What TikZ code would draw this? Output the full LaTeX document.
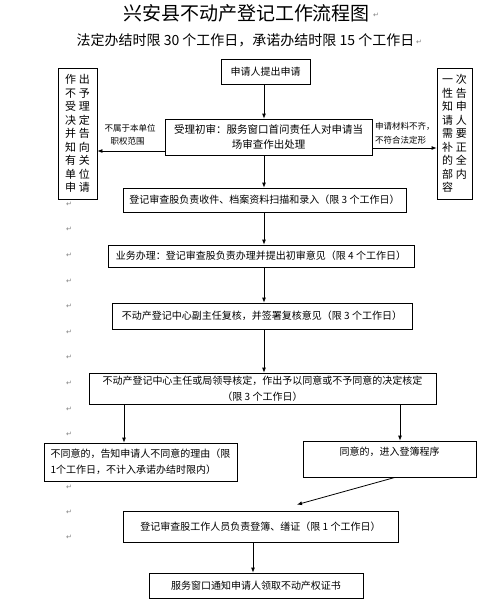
\documentclass[tikz,border=0pt]{standalone}
\usepackage{fontspec}
\setmainfont{Noto Sans CJK SC}
\newfontfamily\symfont{DejaVu Sans}
\usetikzlibrary{arrows.meta,calc}
\newcommand{\twoch}[2]{\makebox[14pt]{#1}\makebox[14pt]{#2}}
\begin{document}
\begin{tikzpicture}[x=1pt,y=-1pt,
  box/.style={draw,line width=0.8pt,inner sep=0pt,align=center,font=\fontsize{10}{16}\selectfont},
  vbox/.style={box,font=\fontsize{11}{13.5}\selectfont},
  arr/.style={draw,line width=0.8pt,-{Latex[length=5pt,width=4pt]}},
  lbl/.style={font=\fontsize{8.5}{10}\selectfont,inner sep=0pt},
  pm/.style={font=\symfont\fontsize{7}{8}\selectfont,text=gray,inner sep=0pt}]
\useasboundingbox[fill=white] (0,0) rectangle (493,603);

% titles
\node[inner sep=0pt,font=\fontsize{19}{22}\selectfont] (title) at (246.5,13) {兴安县不动产登记工作流程图};
\node[inner sep=0pt,font=\fontsize{14}{16}\selectfont] (sub) at (245.5,40) {法定办结时限 30 个工作日，承诺办结时限 15 个工作日};
\node[pm] (pt) at (376,15) {↵};
\node[pm] (ps) at (419,42) {↵};

% boxes
\node[box,minimum width=89pt,minimum height=25pt] (b1) at (265.5,71.5) {申请人提出申请};
\node[box,minimum width=207pt,minimum height=36pt,font=\fontsize{10.5}{15}\selectfont] (b2) at (268.5,137) {受理初审：服务窗口首问责任人对申请当\\场审查作出处理};
\node[vbox,minimum width=39pt,minimum height=131pt] (bL) at (77.5,133.5)
  {\twoch{作}{出}\\\twoch{不}{予}\\\twoch{受}{理}\\\twoch{决}{定}\\\twoch{并}{告}\\\twoch{知}{向}\\\twoch{有}{关}\\\twoch{单}{位}\\\twoch{申}{请}};
\node[vbox,minimum width=35pt,minimum height=131pt] (bR) at (454.5,133.5)
  {\twoch{一}{次}\\\twoch{性}{告}\\\twoch{知}{申}\\\twoch{请}{人}\\\twoch{需}{要}\\\twoch{补}{正}\\\twoch{的}{全}\\\twoch{部}{内}\\\twoch{容}{}};
\node[box,minimum width=283pt,minimum height=24pt] (b3) at (264.5,200) {登记审查股负责收件、档案资料扫描和录入（限 3 个工作日）};
\node[box,minimum width=306pt,minimum height=22pt] (b4) at (261,256) {业务办理：登记审查股负责办理并提出初审意见（限 4 个工作日）};
\node[box,minimum width=300pt,minimum height=26pt] (b5) at (262,316) {不动产登记中心副主任复核，并签署复核意见（限 3 个工作日）};
\node[box,minimum width=347pt,minimum height=31pt] (b6) at (262.5,388.5) {不动产登记中心主任或局领导核定，作出予以同意或不予同意的决定核定\\（限 3 个工作日）};
\node[box,minimum width=193pt,minimum height=38pt,align=left] (b7) at (140.5,462) {不同意的，告知申请人不同意的理由（限\\1个工作日，不计入承诺办结时限内）};
\node[box,minimum width=173pt,minimum height=36pt] (b8) at (389.5,459) {同意的，进入登簿程序\\\mbox{}};
\node[box,minimum width=275pt,minimum height=31pt] (b9) at (260.5,526.5) {登记审查股工作人员负责登簿、缮证（限 1 个工作日）};
\node[box,minimum width=214pt,minimum height=25pt] (b10) at (256,585.5) {服务窗口通知申请人领取不动产权证书};

% helper coordinates
\coordinate (mx) at (264,0);
\coordinate (lx) at (124,0);
\coordinate (rx) at (400,0);
\coordinate (bx) at (253,0);
\coordinate (ly) at (0,151);
\coordinate (ry) at (0,148);

% connectors
\draw[arr] (b1.south -| mx) -- (b2.north -| mx);
\draw[arr] (b2.south -| mx) -- (b3.north -| mx);
\draw[arr] (b3.south -| mx) -- (b4.north -| mx);
\draw[arr] (b4.south -| mx) -- (b5.north -| mx);
\draw[arr] (b5.south -| mx) -- (b6.north -| mx);
\draw[arr] (b6.south -| lx) -- (b7.north -| lx);
\draw[arr] (b6.south -| rx) -- (b8.north -| rx);
\draw[arr] ($(b8.south)+(5.5,0)$) -- ($(b9.north)+(36.5,-6)$);
\draw[arr] (b9.south -| bx) -- (b10.north -| bx);
\draw[arr] (b2.west |- ly) -- (bL.east |- ly);
\draw[arr] (b2.east |- ry) -- (bR.west |- ry);

% connector labels
\node[lbl] (l1) at (130,128) {不属于本单位};
\node[lbl] (l2) at (127.5,141) {职权范围};
\node[lbl,anchor=west] (r1) at (375,126) {申请材料不齐，};
\node[lbl,anchor=west] (r2) at (375,140) {不符合法定形};

% paragraph marks
\foreach \yy [count=\i] in {204,229,255,281,306,332,357,383,409,434,487,512,537}
  \node[pm] (p\i) at (69,\yy) {↵};
\end{tikzpicture}
\end{document}
